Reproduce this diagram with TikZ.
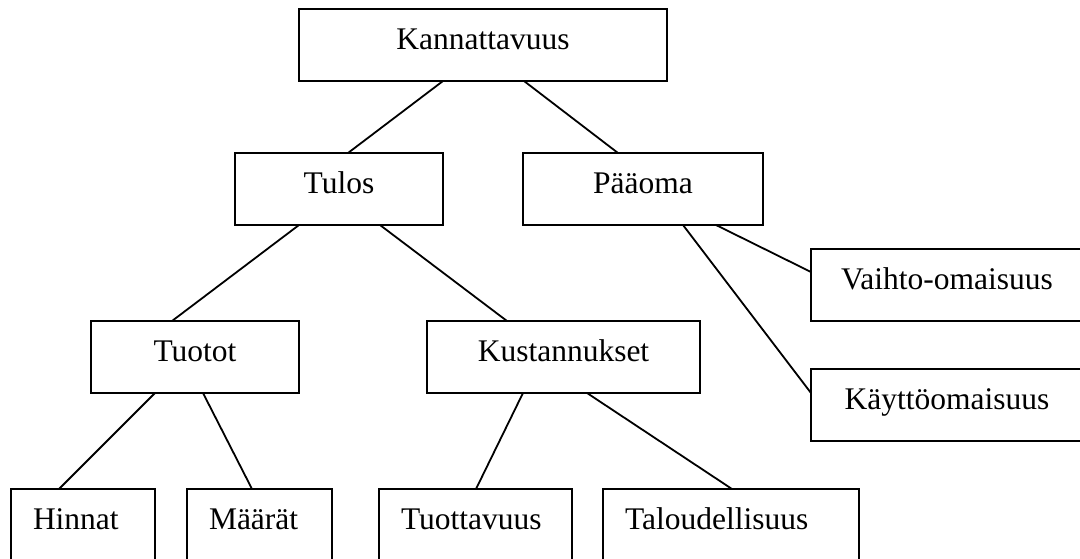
\documentclass[tikz,border=0pt]{standalone}
\usepackage{fontspec}
\setmainfont{Liberation Serif}
\begin{document}
\begin{tikzpicture}[x=1pt,y=-1pt,
  box/.style={draw, line width=1.8pt, rectangle, minimum height=72pt, inner xsep=0pt, inner ysep=0pt, outer sep=0pt,
    text height=24pt, text depth=16pt, font=\fontsize{31.5}{36}\selectfont},
  lbox/.style={box, inner xsep=22pt, align=left},
  conn/.style={line width=1.8pt}]
\useasboundingbox (0,0) rectangle (1080,558);
\clip (0,0) rectangle (1080,558);
\node[box, minimum width=368pt] (kan) at (483,45) {Kannattavuus};
\node[box, minimum width=208pt] (tulos) at (339,189) {Tulos};
\node[box, minimum width=240pt] (paa) at (643,189) {Pääoma};
\node[box, minimum width=272pt] (vai) at (947,285) {Vaihto-omaisuus};
\node[box, minimum width=272pt] (kay) at (947,405) {Käyttöomaisuus};
\node[box, minimum width=208pt] (tuo) at (195,357) {Tuotot};
\node[box, minimum width=273pt] (kus) at (563.5,357) {Kustannukset};
\node[lbox, text width=100pt] (hin) at (83,525) {Hinnat};
\node[lbox, text width=101pt] (maa) at (259.5,525) {Määrät};
\node[lbox, text width=149pt] (tuot) at (475.5,525) {Tuottavuus};
\node[lbox, text width=212pt] (tal) at (731,525) {Taloudellisuus};
\draw[conn] ([xshift=144pt]kan.south west) -- ([xshift=113pt]tulos.north west);
\draw[conn] ([xshift=225pt]kan.south west) -- ([xshift=95pt]paa.north west);
\draw[conn] ([xshift=64pt]tulos.south west) -- ([xshift=81pt]tuo.north west);
\draw[conn] ([xshift=145pt]tulos.south west) -- ([xshift=80pt]kus.north west);
\draw[conn] ([xshift=193pt]paa.south west) -- ([yshift=-23pt]vai.north west);
\draw[conn] ([xshift=160pt]paa.south west) -- ([yshift=-24pt]kay.north west);
\draw[conn] ([xshift=64pt]tuo.south west) -- ([xshift=48pt]hin.north west);
\draw[conn] ([xshift=112pt]tuo.south west) -- ([xshift=65pt]maa.north west);
\draw[conn] ([xshift=96pt]kus.south west) -- ([xshift=97pt]tuot.north west);
\draw[conn] ([xshift=160pt]kus.south west) -- ([xshift=129pt]tal.north west);
\end{tikzpicture}
\end{document}
